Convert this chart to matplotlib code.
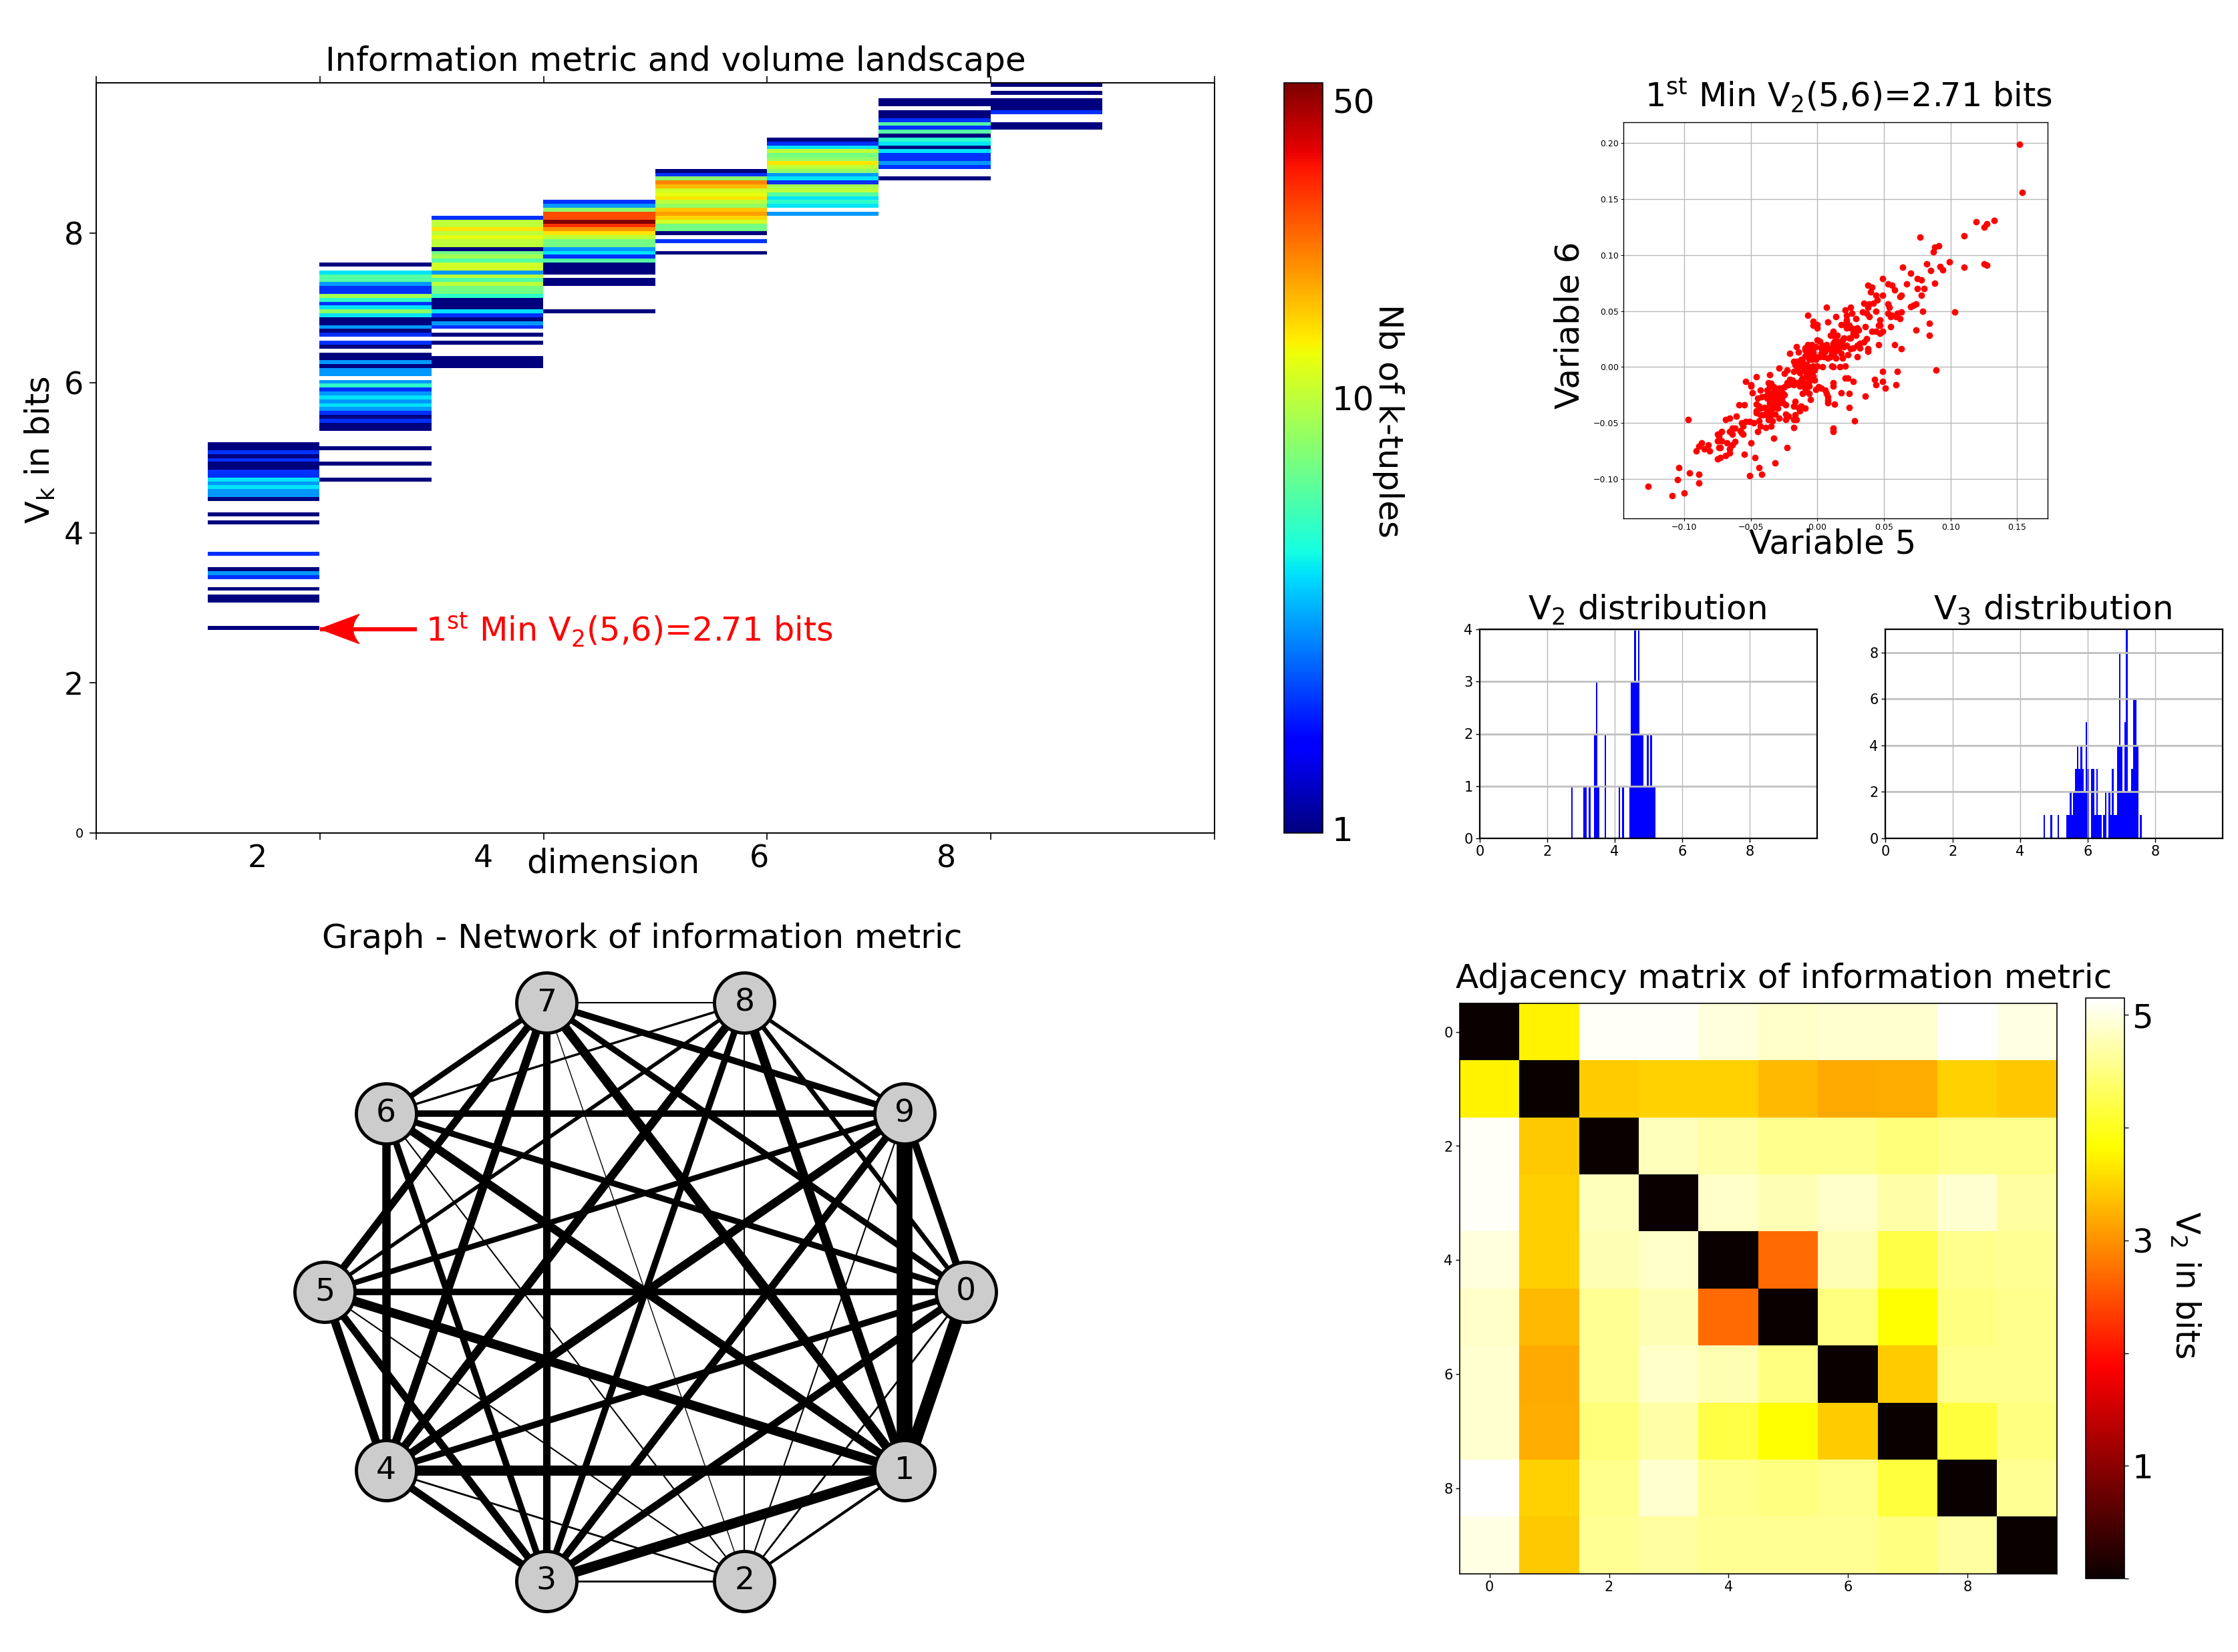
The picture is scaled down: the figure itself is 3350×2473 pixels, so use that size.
import numpy as np
import matplotlib
matplotlib.use("Agg")
import matplotlib.pyplot as plt
from matplotlib.colors import LogNorm
from matplotlib.path import Path
from matplotlib.patches import PathPatch
from matplotlib.transforms import ScaledTranslation

plt.rcParams['mathtext.default'] = 'regular'

W, H = 3350, 2473
n_bins = 192
bin_h = 10.0 / n_bins

# landscape columns: first bin and number of k-tuples per bin, going upwards
col_start = [52, 90, 119, 133, 148, 158, 167, 180]
col_counts = [
    [1,0,0,0,0,0,0,1,1,0,1,0,0,2,3,1,0,0,0,2,0,0,0,0,0,0,0,1,0,1,0,0,0,1,3,3,4,3,4,2,2,1,1,2,1,2,1,1],
    [1,0,0,0,1,0,0,0,1,0,0,0,0,1,1,2,1,2,3,4,3,4,3,2,5,3,0,3,3,1,3,1,1,0,1,2,0,2,1,3,1,1,4,8,4,2,5,9,2,2,3,6,6,4,0,1],
    [1,1,1,0,0,0,1,0,1,0,2,3,1,2,4,1,1,1,5,7,7,10,6,10,3,11,11,6,9,7,1,10,10,12,10,14,10,10,2],
    [1,0,0,0,0,0,0,1,1,0,1,1,1,6,2,4,3,7,7,10,14,20,30,53,27,27,8,3,2],
    [1,0,0,2,0,1,7,7,11,15,19,16,8,10,14,12,11,17,21,8,2,1],
    [3,0,4,5,4,6,10,9,2,4,3,8,10,14,8,7,10,4,2,1],
    [1,0,0,2,3,2,2,4,1,4,5,1,6,2,6,2,1,1,0,1,1],
    [1,1,0,0,2,1,1,1,0,1,0,1],
]

# adjacency matrix, V2 in bits
v2_matrix = [
    [0.00, 3.75, 5.10, 5.10, 4.95, 4.85, 4.90, 4.90, 5.15, 5.00],
    [3.75, 0.00, 3.45, 3.50, 3.50, 3.30, 3.18, 3.20, 3.50, 3.40],
    [5.10, 3.42, 0.00, 4.80, 4.70, 4.55, 4.55, 4.45, 4.55, 4.55],
    [5.10, 3.47, 4.80, 0.00, 4.85, 4.75, 4.85, 4.70, 4.90, 4.65],
    [4.95, 3.47, 4.75, 4.85, 0.00, 2.71, 4.75, 4.20, 4.55, 4.60],
    [4.85, 3.30, 4.60, 4.75, 2.71, 0.00, 4.50, 3.85, 4.50, 4.55],
    [4.90, 3.18, 4.60, 4.85, 4.75, 4.50, 0.00, 3.45, 4.55, 4.55],
    [4.90, 3.20, 4.45, 4.70, 4.20, 3.85, 3.45, 0.00, 4.15, 4.50],
    [5.15, 3.50, 4.55, 4.90, 4.55, 4.50, 4.55, 4.15, 0.00, 4.60],
    [5.00, 3.43, 4.60, 4.65, 4.60, 4.60, 4.60, 4.50, 4.65, 0.00],
]

# graph edges: node a, node b, line width
edges = [
    (0,1,14),(0,2,2),(0,3,8),(0,4,7),(0,5,7),(0,6,6.5),(0,7,6.5),(0,8,5),(0,9,8),
    (1,2,3),(1,3,11),(1,4,11),(1,5,10),(1,6,9),(1,7,10),(1,8,10),(1,9,17),
    (2,3,2),(2,4,2),(2,5,1.5),(2,6,1.5),(2,7,1),(2,8,1.5),(2,9,1.5),
    (3,4,8),(3,5,8),(3,6,7),(3,7,8),(3,8,7),(3,9,8),
    (4,5,9),(4,6,9),(4,7,9),(4,8,9),(4,9,9),
    (5,7,8),(5,8,4),(5,9,6),
    (6,7,6),(6,8,2.5),(6,9,7),
    (7,8,1.5),(7,9,7),(8,9,4),
]

# variable 5 against variable 6
scatter_points = [
    (0.152,0.199),(0.154,0.156),(0.133,0.131),(0.127,0.128),(0.125,0.125),(0.119,0.130),(0.110,0.117),(0.077,0.116),
    (0.091,0.108),(0.088,0.107),(0.087,0.103),(0.099,0.094),(0.125,0.092),(0.127,0.091),(0.110,0.089),(0.092,0.090),
    (0.094,0.087),(0.085,0.086),(0.082,0.092),(0.064,0.089),(0.070,0.084),(0.049,0.079),(0.075,0.079),(0.078,0.078),
    (0.088,0.075),(0.067,0.074),(0.053,0.074),(0.056,0.073),(0.038,0.073),(0.041,0.071),(0.075,0.070),(0.080,0.070),
    (0.058,0.069),(0.040,0.067),(0.078,0.064),(0.049,0.064),(0.062,0.063),(0.063,0.064),(0.044,0.064),
    (0.045,0.060),(0.042,0.057),(0.039,0.056),(0.035,0.057),(0.038,0.053),(0.053,0.056),(0.054,0.053),(0.072,0.055),
    (0.074,0.056),(0.070,0.054),(0.079,0.050),(0.063,0.049),(0.053,0.048),(0.060,0.048),(0.056,0.046),(0.055,0.045),
    (0.062,0.043),(0.059,0.045),(0.047,0.042),(0.044,0.050),(0.037,0.048),(0.034,0.049),(0.039,0.045),(0.029,0.043),
    (0.103,0.049),(0.084,0.039),(0.074,0.033),(0.084,0.028),(0.046,0.037),(0.047,0.037),(0.055,0.036),(0.049,0.032),
    (0.047,0.030),(0.044,0.032),(0.041,0.032),(0.036,0.036),(0.030,0.035),(0.031,0.033),(0.027,0.030),(0.029,0.028),
    (0.024,0.026),(0.037,0.025),(0.035,0.022),(0.032,0.021),(0.030,0.019),(0.046,0.020),(0.058,0.020),(0.063,0.016),
    (0.038,0.016),(0.038,0.014),(0.032,0.017),(0.027,0.017),(0.025,0.016),(0.030,0.009),(0.007,0.053),(0.021,0.051),
    (0.025,0.053),(0.022,0.046),(0.026,0.048),(0.014,0.045),(-0.007,0.046),(0.008,0.040),(-0.003,0.041),(0.000,0.038),
    (0.000,0.035),(-0.003,0.037),(0.022,0.042),(0.022,0.040),(0.021,0.038),(0.018,0.038),(0.024,0.037),(0.022,0.035),
    (0.025,0.035),(0.027,0.034),(0.012,0.032),(0.012,0.028),(0.015,0.028),(0.010,0.028),(0.020,0.026),(0.025,0.026),
    (0.013,0.023),(0.015,0.023),(0.019,0.024),(0.012,0.021),(0.018,0.020),(0.014,0.019),(0.020,0.018),(0.022,0.019),
    (0.015,0.018),(0.016,0.015),(0.013,0.013),(0.011,0.012),(0.018,0.012),(0.023,0.011),(0.019,0.008),(0.014,0.008),
    (0.010,0.009),(0.008,0.008),(0.005,0.009),(0.002,0.009),(0.003,0.012),(0.006,0.014),(0.008,0.016),(0.011,0.017),
    (0.007,0.020),(0.002,0.023),(0.004,0.019),(0.000,0.024),(0.003,0.017),(-0.001,0.018),(0.004,0.015),
    (-0.007,0.020),(-0.004,0.020),(-0.006,0.017),(-0.009,0.017),(-0.009,0.015),(-0.007,0.013),(-0.004,0.016),(-0.003,0.013),
    (-0.005,0.011),(-0.002,0.010),(-0.009,0.010),(-0.006,0.007),(-0.004,0.007),(-0.001,0.007),(-0.016,0.018),(-0.021,0.012),
    (-0.014,0.013),(-0.012,0.007),(-0.015,0.005),(-0.011,0.005),(-0.018,0.005),(-0.017,0.002),(-0.012,0.001),(-0.015,-0.002),
    (-0.010,0.001),(-0.008,0.002),(-0.006,0.000),(-0.003,0.001),(0.000,0.001),(0.004,0.000),(0.011,0.001),(0.012,0.000),
    (0.017,0.000),(0.021,0.001),(-0.006,-0.003),(-0.010,-0.003),(-0.002,-0.003),(-0.004,-0.006),(-0.008,-0.006),(-0.013,-0.005),
    (-0.003,-0.008),(-0.005,-0.010),(-0.008,-0.009),(-0.011,-0.010),(-0.018,-0.004),(-0.023,-0.003),(-0.025,-0.006),(-0.029,-0.001),
    (-0.014,-0.014),(-0.012,-0.012),(-0.016,-0.014),(-0.010,-0.014),(-0.006,-0.013),(-0.002,-0.012),(-0.006,-0.017),(-0.009,-0.019),
    (-0.013,-0.017),(-0.018,-0.016),(-0.021,-0.011),(-0.019,-0.012),(-0.023,-0.014),(-0.022,-0.016),(-0.025,-0.018),(-0.027,-0.019),
    (-0.008,-0.022),(-0.011,-0.024),(-0.006,-0.024),(-0.001,-0.020),(0.001,-0.018),(0.003,-0.019),(0.006,-0.021),(0.007,-0.024),
    (0.008,-0.027),(0.012,-0.014),(0.012,-0.017),(0.021,-0.010),(0.023,-0.010),(0.027,-0.013),(0.018,-0.023),(0.024,-0.024),
    (0.036,-0.026),(0.008,-0.030),(0.008,-0.032),(0.013,-0.033),(0.024,-0.036),(0.028,-0.048),(0.012,-0.055),(0.012,-0.058),
    (0.043,-0.011),(0.044,-0.016),(0.049,-0.013),(0.051,-0.019),(0.059,-0.016),(0.049,-0.004),(0.060,-0.004),(0.089,-0.003),
    (-0.054,-0.013),(-0.050,-0.016),(-0.046,-0.009),(-0.036,-0.007),(-0.050,-0.017),(-0.049,-0.023),(-0.043,-0.021),(-0.037,-0.014),
    (-0.035,-0.015),(-0.033,-0.018),(-0.036,-0.018),(-0.029,-0.019),(-0.031,-0.020),(-0.038,-0.021),(-0.034,-0.023),(-0.029,-0.022),
    (-0.026,-0.024),(-0.032,-0.024),(-0.036,-0.025),(-0.039,-0.026),(-0.042,-0.027),(-0.045,-0.028),(-0.028,-0.026),(-0.031,-0.027),
    (-0.034,-0.028),(-0.038,-0.028),(-0.027,-0.029),(-0.025,-0.025),(-0.029,-0.030),(-0.033,-0.031),(-0.036,-0.032),(-0.029,-0.032),
    (-0.026,-0.032),(-0.031,-0.034),(-0.024,-0.034),(-0.046,-0.033),(-0.044,-0.035),(-0.036,-0.034),(-0.040,-0.036),(-0.043,-0.037),
    (-0.033,-0.036),(-0.030,-0.037),(-0.035,-0.038),(-0.038,-0.039),(-0.046,-0.039),(-0.046,-0.041),(-0.043,-0.043),(-0.041,-0.043),
    (-0.038,-0.043),(-0.035,-0.043),(-0.032,-0.042),(-0.029,-0.046),(-0.024,-0.042),(-0.018,-0.035),(-0.017,-0.043),(-0.014,-0.036),
    (-0.013,-0.039),(-0.012,-0.035),(-0.009,-0.037),(-0.005,-0.029),(-0.017,-0.031),(-0.024,-0.047),(-0.018,-0.047),(-0.022,-0.044),
    (-0.016,-0.047),(-0.037,-0.047),(-0.034,-0.048),(-0.044,-0.048),(-0.051,-0.049),(-0.054,-0.049),(-0.057,-0.050),(-0.048,-0.050),
    (-0.061,-0.044),(-0.069,-0.047),(-0.066,-0.046),(-0.059,-0.034),(-0.055,-0.034),(-0.043,-0.053),(-0.039,-0.054),(-0.035,-0.053),
    (-0.033,-0.064),(-0.018,-0.054),(-0.023,-0.072),(-0.050,-0.068),(-0.056,-0.053),(-0.058,-0.057),(-0.062,-0.055),(-0.064,-0.055),
    (-0.066,-0.058),(-0.064,-0.060),(-0.072,-0.058),(-0.056,-0.060),(-0.057,-0.059),(-0.045,-0.058),(-0.075,-0.060),(-0.074,-0.062),
    (-0.072,-0.066),(-0.075,-0.066),(-0.068,-0.068),(-0.062,-0.067),(-0.064,-0.070),(-0.066,-0.073),(-0.091,-0.075),(-0.089,-0.071),
    (-0.087,-0.068),(-0.085,-0.073),(-0.081,-0.075),(-0.082,-0.070),(-0.074,-0.072),(-0.073,-0.072),(-0.066,-0.077),(-0.069,-0.079),
    (-0.055,-0.078),(-0.047,-0.081),(-0.075,-0.082),(-0.073,-0.081),(-0.032,-0.086),(-0.044,-0.090),(-0.042,-0.096),(-0.051,-0.097),
    (-0.104,-0.090),(-0.096,-0.095),(-0.089,-0.096),(-0.105,-0.101),(-0.089,-0.104),(-0.100,-0.113),(-0.109,-0.115),(-0.127,-0.107),
    (-0.097,-0.047),
]

min_label = r'$1^{st}$ Min V$_2$(5,6)=2.71 bits'

fig = plt.figure(figsize=(W / 100, H / 100), dpi=100)


def px_axes(left, top, right, bottom):
    return fig.add_axes([left / W, 1 - bottom / H, (right - left) / W, (bottom - top) / H])


def px_text(x, y, s, size, **kw):
    fig.text(x / W, 1 - y / H, s, fontsize=size, ha='center', va='center', **kw)


def thin_frame(ax, lw=1.4):
    for sp in ax.spines.values():
        sp.set_linewidth(lw)


# ---- landscape
ax = px_axes(144, 124, 1818, 1247)
grid = np.full((n_bins, 10), np.nan)
for i in range(len(col_counts)):
    for j in range(len(col_counts[i])):
        if col_counts[i][j] > 0:
            grid[col_start[i] + j, i + 1] = col_counts[i][j]
im = ax.imshow(grid, origin='lower', extent=[0, 10, 0, 10], aspect='auto', cmap='jet',
               norm=LogNorm(vmin=1, vmax=53), interpolation='nearest')
ax.set_xlim(0, 10)
ax.set_ylim(0, 10)
ax.set_xticks([0, 2, 4, 6, 8, 10])
ax.set_xticklabels([])
ax.set_yticks([0, 2, 4, 6, 8])
ax.set_yticklabels(['0', '2', '4', '6', '8'], fontsize=33)
ax.get_yticklabels()[0].set_fontsize(14)
ax.tick_params(axis='x', top=True, length=7, width=1.2)
ax.tick_params(axis='y', length=7, width=1.2, pad=7)
thin_frame(ax)
px_text(1011, 92, 'Information metric and volume landscape', 36)
px_text(60, 673, r'V$_k$ in bits', 35.5, rotation=90)
for lab, xp in zip(['2', '4', '6', '8'], [385, 723, 1136, 1416]):
    px_text(xp, 1286, lab, 33)
px_text(918, 1293, 'dimension', 36)

# arrow to the first minimum
tip_x, tip_y = 2.0, 2.72
dx, dy = 1.0 / 167.4, 1.0 / 112.3
ax.plot([tip_x, tip_x + 145 * dx], [tip_y, tip_y], color='red', lw=4.5, solid_capstyle='butt')
head = Path([(tip_x, tip_y), (tip_x + 59 * dx, tip_y + 22 * dy),
             (tip_x + 40 * dx, tip_y), (tip_x + 59 * dx, tip_y - 22 * dy), (tip_x, tip_y)],
            [Path.MOVETO, Path.LINETO, Path.CURVE3, Path.CURVE3, Path.CLOSEPOLY])
ax.add_patch(PathPatch(head, color='red', lw=1))
ax.text(2.945, 2.71, min_label, color='red', fontsize=35.5, va='center', ha='left')

cax = px_axes(1922, 124, 1980, 1247)
cb = fig.colorbar(im, cax=cax)
cb.set_ticks([1, 10, 50])
cb.set_ticklabels(['1', '10', '50'])
cb.ax.minorticks_off()
cb.ax.tick_params(labelsize=36, length=0, pad=10)
cb.outline.set_linewidth(1.2)
# the outer two colorbar labels sit inside the bar's range in the original
for lab, off in zip(cb.ax.get_yticklabels(), [0.07, 0, -0.10]):
    lab.set_transform(lab.get_transform() + ScaledTranslation(0, off, fig.dpi_scale_trans))
px_text(2078, 630, 'Nb of k-tuples', 36, rotation=270)

# ---- scatter of the first minimum
ax = px_axes(2430, 183, 3065, 776)
var5 = [p[0] for p in scatter_points]
var6 = [p[1] for p in scatter_points]
ax.scatter(var5, var6, s=50, color='red', linewidths=0, zorder=3)
ax.set_xlim(-0.1457, 0.1729)
ax.set_ylim(-0.1354, 0.2187)
ax.set_xticks([-0.10, -0.05, 0, 0.05, 0.10, 0.15])
ax.set_yticks([-0.10, -0.05, 0, 0.05, 0.10, 0.15, 0.20])
ax.tick_params(labelsize=9, length=3, width=0.7, pad=2)
ax.grid(True, color='#b8b8b8', lw=1.0)
ax.set_axisbelow(True)
thin_frame(ax, 1.0)
px_text(2767, 143, min_label, 35.5)
px_text(2743, 814, 'Variable 5', 36)
px_text(2350, 487, 'Variable 6', 36, rotation=90)

# ---- V2 and V3 distributions, same bins as the landscape
hist_boxes = [(2215, 2720), (2822, 3327)]
hist_max = [4, 9]
hist_ticks = [[0, 1, 2, 3, 4], [0, 2, 4, 6, 8]]
hist_titles = [r'V$_2$ distribution', r'V$_3$ distribution']
hist_title_x = [2465, 3072]
for i in range(2):
    ax = px_axes(hist_boxes[i][0], 942, hist_boxes[i][1], 1255)
    rows = np.arange(len(col_counts[i])) + col_start[i]
    ax.bar((rows + 0.5) * bin_h, col_counts[i], width=bin_h, color='blue', linewidth=0)
    ax.set_xlim(0, 10)
    ax.set_ylim(0, hist_max[i])
    ax.set_xticks([0, 2, 4, 6, 8])
    ax.set_yticks(hist_ticks[i])
    ax.tick_params(labelsize=15, length=4, width=1)
    ax.xaxis.grid(True, color='#b8b8b8', lw=1.0)
    ax.yaxis.grid(True, color='#c0c0c0', lw=2.0)
    thin_frame(ax, 1.6)
    px_text(hist_title_x[i], 913, hist_titles[i], 36)

# ---- graph
ax = px_axes(966 - 576, 1934 - 546, 966 + 576, 1934 + 546)
ax.set_xlim(-1.2, 1.2)
ax.set_ylim(-1.2, 1.2)
ax.axis('off')
angles = -2 * np.pi * np.arange(10) / 10
node_x = np.cos(angles)
node_y = np.sin(angles)
for a, b, w in edges:
    ax.plot([node_x[a], node_x[b]], [node_y[a], node_y[b]], color='k', lw=w,
            solid_capstyle='butt', zorder=1)
ax.scatter(node_x, node_y, s=4200, c='#cccccc', edgecolors='k', linewidths=3.5, zorder=2)
for n in range(10):
    ax.text(node_x[n], node_y[n], str(n), fontsize=34, ha='center', va='center', zorder=3)
px_text(961, 1405, 'Graph - Network of information metric', 36)

# ---- adjacency matrix
ax = px_axes(2185, 1502, 3079, 2356)
im2 = ax.imshow(v2_matrix, cmap='hot', vmin=0, vmax=5.15, aspect='auto', interpolation='nearest')
ax.set_xticks([0, 2, 4, 6, 8])
ax.set_yticks([0, 2, 4, 6, 8])
ax.tick_params(labelsize=15, length=4, width=1)
thin_frame(ax, 1.2)
px_text(2670, 1465, 'Adjacency matrix of information metric', 36)

cax2 = px_axes(3122, 1494, 3180, 2363)
cb2 = fig.colorbar(im2, cax=cax2)
cb2.set_ticks([0, 1, 2, 3, 4, 5])
cb2.set_ticklabels(['', '1', '', '3', '', '5'])
cb2.ax.tick_params(labelsize=36, length=4, width=1, pad=4)
cb2.outline.set_linewidth(1.2)
px_text(3271, 1923, r'V$_2$ in bits', 35, rotation=270)

fig.savefig('out.png', dpi=100)
